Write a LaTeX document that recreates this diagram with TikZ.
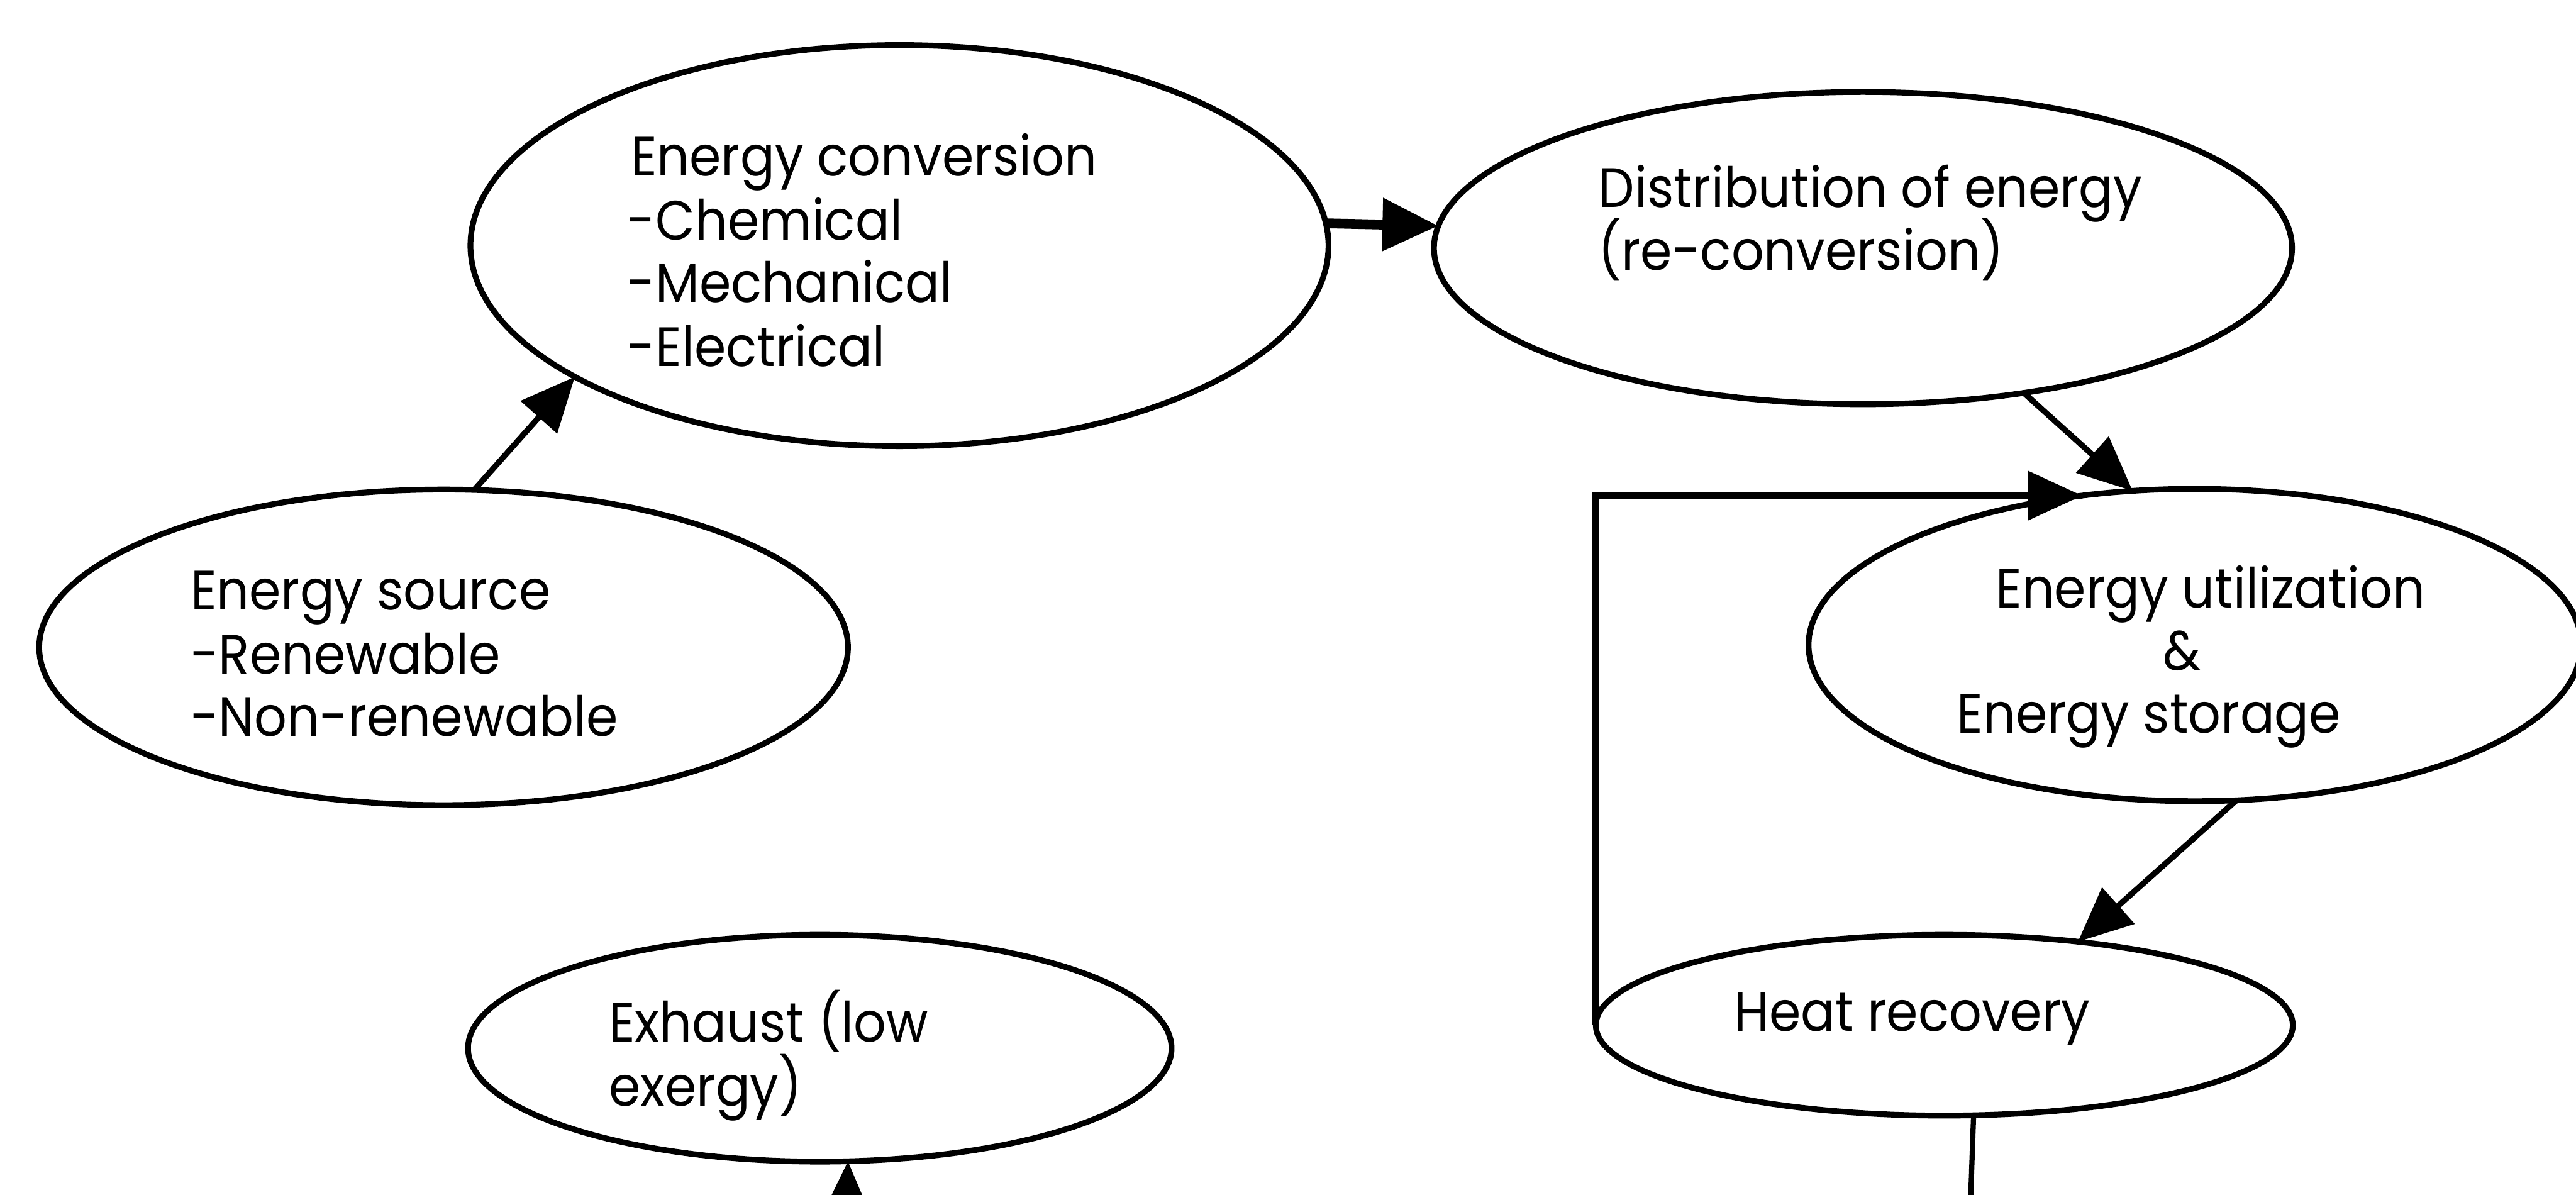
\documentclass[tikz,border=0pt]{standalone}
\usepackage{fontspec}
\setmainfont{Poppins}[FakeStretch=0.92]
\usetikzlibrary{shapes.geometric,arrows.meta}
\begin{document}
\begin{tikzpicture}[x=0.01cm,y=-0.01cm,
  stage/.style={ellipse,draw,line width=1pt,inner sep=0pt,outer sep=0pt},
  lbl/.style={anchor=base west,inner sep=0pt,outer sep=0pt,font=\fontsize{9.6}{11}\selectfont},
  clbl/.style={lbl,anchor=base},
  flow/.style={line width=1pt,-{Triangle[length=0.33cm,width=0.29cm]}},
  bigflow/.style={line width=1.7pt,-{Triangle[length=0.34cm,width=0.31cm]}},
  plain/.style={line width=0.9pt}]
\useasboundingbox (0,0) rectangle (1568,727);

% stages
\node[stage,minimum width=4.92cm,minimum height=1.92cm] (src)  at (270,394) {};
\node[stage,minimum width=5.22cm,minimum height=2.44cm] (conv) at (547.5,149.5) {};
\node[stage,minimum width=5.22cm,minimum height=1.90cm] (dist) at (1134,151) {};
\node[stage,minimum width=4.70cm,minimum height=1.90cm] (util) at (1336,392.6) {};
\node[stage,minimum width=4.24cm,minimum height=1.10cm] (heat) at (1183.5,624) {};
\node[stage,minimum width=4.28cm,minimum height=1.38cm] (exh)  at (499,638) {};

% labels
\node[lbl] (src1) at (116,371) {Energy source};
\node[lbl] (src2) at (116,410) {-Renewable};
\node[lbl] (src3) at (116,448) {-Non-renewable};

\node[lbl] (conv1) at (384,107) {Energy conversion};
\node[lbl] (conv2) at (382,146) {-Chemical};
\node[lbl] (conv3) at (382,184) {-Mechanical};
\node[lbl] (conv4) at (382,223) {-Electrical};

\node[lbl] (dist1) at (973,126) {Distribution of energy};
\node[lbl] (dist2) at (973,164.5) {(re-conversion)};

\node[clbl] (util1) at (1345.5,370) {Energy utilization};
\node[clbl] (util2) at (1328,408) {\&};
\node[clbl] (util3) at (1308,446) {Energy storage};

\node[lbl] (heat1) at (1055.5,627.6) {Heat recovery};

\node[lbl] (exh1) at (370.7,634) {Exhaust (low};
\node[lbl] (exh2) at (370.7,673) {exergy)};

% free ends below the lower edge
\coordinate (heatout) at (1199,745);
\coordinate (exhin) at (515,750);

% connectors
\draw[flow] (src.79.5) -- (conv.202);
\draw[bigflow] (conv.3) -- (dist.177);
\draw[flow] (dist.318) -- (util.112);
\draw[flow,line width=1.3pt] (heat.west) |- (util.127.6);
\draw[flow] (util.285) -- (heat.32);
\draw[plain] (heat.288) -- (heatout);
\draw[flow] (exhin) -- (exh.284);
\end{tikzpicture}
\end{document}
